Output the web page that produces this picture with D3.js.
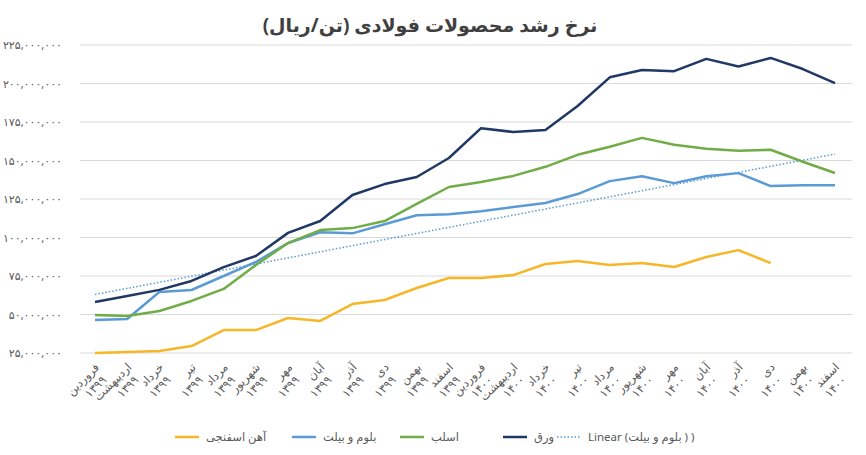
<!DOCTYPE html>
<html><head><meta charset="utf-8">
<script src="https://cdn.jsdelivr.net/npm/d3@7"></script>
<style>body{margin:0;background:#fff;font-family:"Noto Sans","DejaVu Sans",sans-serif}</style>
</head><body>
<svg id="chart" width="866" height="455"></svg>
<script>
var months = ["فروردین","اردیبهشت","خرداد","تیر","مرداد","شهریور","مهر","آبان","آذر","دی","بهمن","اسفند"];
var years = ["۱۳۹۹","۱۴۰۰"];
var categories = [];
years.forEach(function(y){ months.forEach(function(m){ categories.push(m + " " + y); }); });

var warag = [58.1,62,66,71.8,80.8,88,103,110.7,127.6,134.7,139.3,151.6,171,168.5,169.8,185.4,204,208.8,208,216,211,216.6,209.4,200.3];
var eslab = [49.7,49,52.3,58.8,66.6,82.1,96.4,104.8,106.1,110.7,121.8,132.8,136,140,145.9,153.7,158.9,164.7,160.2,157.6,156.3,157,149.2,141.9];
var bloom = [46.4,47.1,64.6,65.9,75,84.1,96.4,103.4,102.7,108.6,114.4,115.1,117,119.8,122.4,128.2,136.6,139.8,135.3,139.8,141.8,133.4,134,134];
var ahan = [25,25.6,26.3,29.5,39.9,39.9,47.7,45.8,56.8,59.4,67.2,73.7,73.7,75.6,82.8,84.8,82.1,83.4,80.8,87.3,91.8,83.4];
var yTicks = [25,50,75,100,125,150,175,200,225];

var svg = d3.select("#chart");
var x = d3.scalePoint().domain(d3.range(categories.length)).range([95,835]);
var y = d3.scaleLinear().domain([25,225]).range([353,45]);

function fa(s){ return String(s).replace(/\d/g, function(d){ return "۰۱۲۳۴۵۶۷۸۹"[d]; }); }

svg.append("text").attr("x",430).attr("y",32).attr("text-anchor","middle")
  .attr("font-size",19).attr("font-weight","bold").attr("fill","#404040")
  .text("نرخ رشد محصولات فولادی (تن/ریال)");

// grid + y labels
svg.selectAll("line.grid").data(yTicks).enter().append("line")
  .attr("x1",80).attr("x2",852).attr("y1",function(d){return y(d);}).attr("y2",function(d){return y(d);})
  .attr("stroke","#d9d9d9").attr("stroke-width",1);
svg.selectAll("text.yl").data(yTicks).enter().append("text")
  .attr("x",62).attr("y",function(d){return y(d)+4;}).attr("text-anchor","end")
  .attr("font-size",11).attr("fill","#595959")
  .text(function(d){ return fa(d3.format(",")(d*1000000)); });

// x labels
categories.forEach(function(c,i){
  var parts = c.split(" ");
  var t = svg.append("text").attr("transform","translate("+(x(i)+5)+",368) rotate(-45)")
    .attr("text-anchor","end").attr("direction","ltr").attr("font-size",11.5).attr("fill","#595959");
  t.append("tspan").attr("x",0).attr("dy",0).text(parts[0]);
  t.append("tspan").attr("x",-4).attr("dy",14).text(parts[1]);
});

var line = d3.line().x(function(d,i){return x(i);}).y(function(d){return y(d);});

// linear trend of bloom
var n = bloom.length, mx = d3.mean(d3.range(n)), my = d3.mean(bloom);
var b = d3.sum(d3.range(n), function(i){return (i-mx)*(bloom[i]-my);}) / d3.sum(d3.range(n), function(i){return (i-mx)*(i-mx);});
var a = my - b*mx;
svg.append("line").attr("x1",x(0)).attr("x2",x(n-1)).attr("y1",y(a)).attr("y2",y(a+b*(n-1)))
  .attr("stroke","#5b9bd5").attr("stroke-width",1.5).attr("stroke-dasharray","1.5,2");

var series = [
  {name:"آهن اسفنجی", data:ahan, color:"#f5b727"},
  {name:"بلوم و بیلت", data:bloom, color:"#5b9bd5"},
  {name:"اسلب", data:eslab, color:"#70ad47"},
  {name:"ورق", data:warag, color:"#203864"}
];
series.forEach(function(s){
  svg.append("path").datum(s.data).attr("d",line).attr("fill","none")
    .attr("stroke",s.color).attr("stroke-width",2.5).attr("stroke-linejoin","round");
});

// legend
var leg = [
  {name:"آهن اسفنجی", color:"#f5b727", x:175},
  {name:"بلوم و بیلت", color:"#5b9bd5", x:292},
  {name:"اسلب", color:"#70ad47", x:400},
  {name:"ورق", color:"#203864", x:503},
  {name:"Linear (بلوم و بیلت ) )", color:"#5b9bd5", x:557, dash:true}
];
leg.forEach(function(l){
  svg.append("line").attr("x1",l.x).attr("x2",l.x+24).attr("y1",437).attr("y2",437)
    .attr("stroke",l.color).attr("stroke-width",l.dash?1.5:2.5).attr("stroke-dasharray",l.dash?"1.5,2":null);
  svg.append("text").attr("x",l.x+31).attr("y",441).attr("font-size",11.5).attr("fill","#595959")
    .attr("direction","ltr").text(l.name);
});
</script>
</body></html>
